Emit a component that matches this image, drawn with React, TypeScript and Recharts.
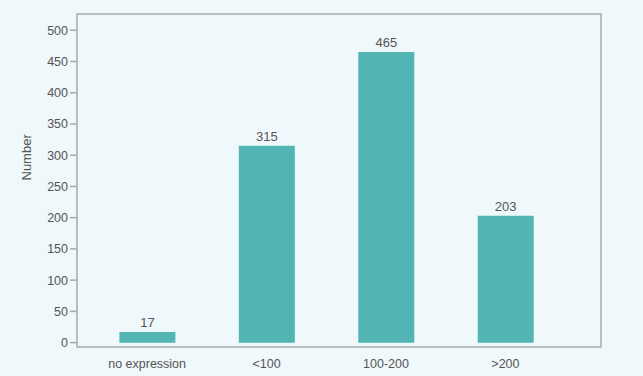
import React from 'react';
import { BarChart, Bar, XAxis, YAxis, LabelList, ReferenceArea } from 'recharts';

const categories = ['no expression', '<100', '100-200', '>200'];
const counts = [17, 315, 465, 203];
const yTicks = [0, 50, 100, 150, 200, 250, 300, 350, 400, 450, 500];

const data = categories.map((name, i) => ({ idx: i, name, count: counts[i] }));

const X_DOMAIN: [number, number] = [-0.587, 3.8];
const Y_DOMAIN: [number, number] = [-7, 526];

const textColor = '#555555';
const frameColor = '#a9a9a9';

const App: React.FC = () => {
  return (
    <div style={{ position: 'absolute', top: 0, left: 0, width: 643, height: 376, background: '#eff8fb', fontFamily: '"Liberation Sans", Arial, sans-serif' }}>
      <BarChart width={643} height={376} data={data} margin={{ top: 14, right: 42, bottom: 0, left: 17 }}>
        <XAxis
          dataKey="idx"
          type="number"
          domain={X_DOMAIN}
          allowDataOverflow
          ticks={[0, 1, 2, 3]}
          tickFormatter={(v: number) => categories[v] ?? ''}
          axisLine={false}
          tickLine={false}
          tickMargin={6}
          height={29}
          tick={{ fill: textColor, fontSize: 12.5 }}
        />
        <YAxis
          type="number"
          domain={Y_DOMAIN}
          allowDataOverflow
          ticks={yTicks}
          axisLine={false}
          tickLine={{ stroke: frameColor, strokeWidth: 1.5 }}
          tickSize={7}
          tickMargin={2}
          width={60}
          tick={{ fill: textColor, fontSize: 12.5 }}
          label={{ value: 'Number', angle: -90, position: 'insideLeft', offset: 9, fill: textColor, fontSize: 13 }}
        />
        <ReferenceArea
          x1={X_DOMAIN[0]}
          x2={X_DOMAIN[1]}
          y1={Y_DOMAIN[0]}
          y2={Y_DOMAIN[1]}
          fill="none"
          stroke={frameColor}
          strokeWidth={1.5}
        />
        <Bar dataKey="count" fill="#52b5b4" barSize={56} isAnimationActive={false}>
          <LabelList dataKey="count" position="top" offset={5} fill={textColor} fontSize={13} />
        </Bar>
      </BarChart>
    </div>
  );
};

export default App;
